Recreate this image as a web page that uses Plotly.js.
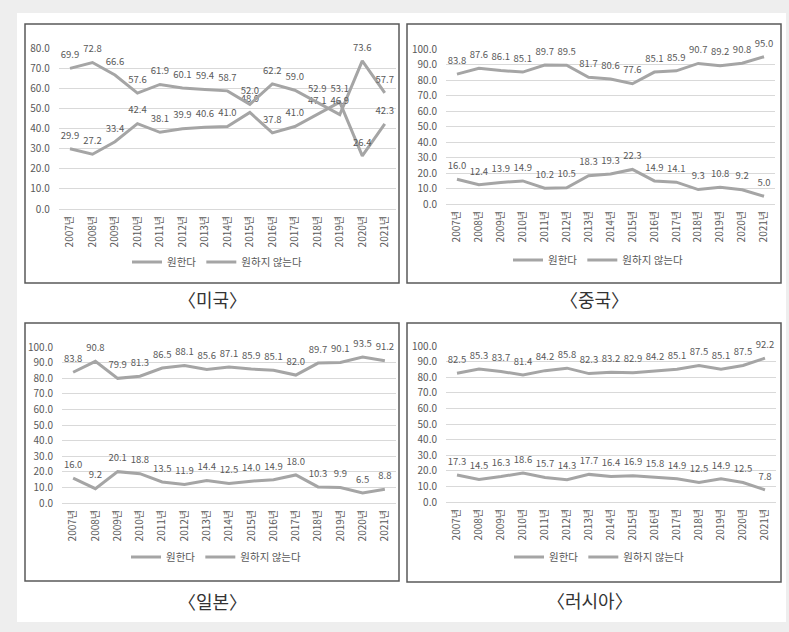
<!DOCTYPE html>
<html>
<head>
<meta charset="utf-8">
<script src="https://cdn.plot.ly/plotly-3.0.1.min.js"></script>
<style>
html,body{margin:0;padding:0;background:#eeeeee;}
#chart{width:789px;height:632px;}
</style>
</head>
<body>
<div id="chart"></div>
<script>
const years = ["2007년","2008년","2009년","2010년","2011년","2012년","2013년","2014년","2015년","2016년","2017년","2018년","2019년","2020년","2021년"];
const seriesNames = ["원한다","원하지 않는다"];
const captions = ["〈미국〉","〈중국〉","〈일본〉","〈러시아〉"];

const usWant    = [29.9,27.2,33.4,42.4,38.1,39.9,40.6,41.0,48.0,37.8,41.0,47.1,53.1,26.4,42.3];
const usNotWant = [69.9,72.8,66.6,57.6,61.9,60.1,59.4,58.7,52.0,62.2,59.0,52.9,46.9,73.6,57.7];
const cnWant    = [16.0,12.4,13.9,14.9,10.2,10.5,18.3,19.3,22.3,14.9,14.1,9.3,10.8,9.2,5.0];
const cnNotWant = [83.8,87.6,86.1,85.1,89.7,89.5,81.7,80.6,77.6,85.1,85.9,90.7,89.2,90.8,95.0];
const jpWant    = [16.0,9.2,20.1,18.8,13.5,11.9,14.4,12.5,14.0,14.9,18.0,10.3,9.9,6.5,8.8];
const jpNotWant = [83.8,90.8,79.9,81.3,86.5,88.1,85.6,87.1,85.9,85.1,82.0,89.7,90.1,93.5,91.2];
const ruWant    = [17.3,14.5,16.3,18.6,15.7,14.3,17.7,16.4,16.9,15.8,14.9,12.5,14.9,12.5,7.8];
const ruNotWant = [82.5,85.3,83.7,81.4,84.2,85.8,82.3,83.2,82.9,84.2,85.1,87.5,85.1,87.5,92.2];
const yMax = [80,100,100,100];

const W = 789, H = 632;
const FONT = "'Noto Sans CJK KR', 'Noto Sans', sans-serif";
const LINE = "#a5a5a5";
const TXT = "#595959";
const GRID = "#d9d9d9";

// panel geometry in px
const panels = [
  {box:[25,24,399,283], plot:[58.75,48,396,209], leg:[217,262], cap:[212,299]},
  {box:[407,24,781,283], plot:[446,49,775,204], leg:[598,260], cap:[594,299]},
  {box:[25,323,399,581], plot:[62,347,396,503], leg:[216,557], cap:[212,601]},
  {box:[407,323,781,582], plot:[446,346,776,502], leg:[599,557], cap:[590,600]}
];
const data = [[usWant,usNotWant],[cnWant,cnNotWant],[jpWant,jpNotWant],[ruWant,ruNotWant]];

const px = x => x / W;
const py = y => 1 - y / H;

const traces = [];
const layout = {
  width: W, height: H,
  margin: {l:0,r:0,t:0,b:0},
  paper_bgcolor: "#eeeeee",
  plot_bgcolor: "rgba(0,0,0,0)",
  font: {family: FONT, color: TXT, size: 10},
  showlegend: true,
  shapes: [
    {type:"rect", xref:"paper", yref:"paper", x0:px(17), x1:px(786), y0:py(13), y1:py(622),
     fillcolor:"#ffffff", line:{width:0}, layer:"below"}
  ],
  annotations: []
};

panels.forEach((p, i) => {
  const n = i === 0 ? "" : String(i + 1);
  const xa = "x" + n, ya = "y" + n;
  const legName = "legend" + n;
  data[i].forEach((vals, s) => {
    traces.push({
      type: "scatter", mode: "lines+markers+text",
      x: years, y: vals,
      text: vals.map(v => v.toFixed(1)),
      textposition: "top center",
      textfont: {family: FONT, size: 9.5, color: TXT},
      cliponaxis: false,
      name: seriesNames[s],
      line: {color: LINE, width: 3},
      marker: {size: 11, color: "rgba(0,0,0,0)", line: {width: 0}},
      xaxis: xa, yaxis: ya,
      legend: legName,
      hoverinfo: "skip"
    });
  });
  layout["xaxis" + n] = {
    domain: [px(p.plot[0]), px(p.plot[2])],
    anchor: ya, type: "category", range: [-0.5, 14.5],
    tickangle: -90, showgrid: false, zeroline: false, showline: false,
    ticks: "", ticklabelstandoff: 4,
    tickfont: {family: FONT, size: 10, color: TXT}, fixedrange: true
  };
  layout["yaxis" + n] = {
    domain: [py(p.plot[3]), py(p.plot[1])],
    anchor: xa, range: [0, yMax[i]], dtick: 10, tick0: 0,
    tickformat: ".1f", showgrid: true, gridcolor: GRID, gridwidth: 1,
    zeroline: true, zerolinecolor: GRID, zerolinewidth: 1, showline: false,
    ticks: "", ticklabelstandoff: 8,
    tickfont: {family: FONT, size: 10, color: TXT}, fixedrange: true
  };
  layout[legName] = {
    x: px(p.leg[0]), y: py(p.leg[1]), xanchor: "center", yanchor: "middle",
    orientation: "h", bgcolor: "rgba(0,0,0,0)",
    font: {family: FONT, size: 10.5, color: TXT},
    itemwidth: 30, tracegroupgap: 0
  };
  layout.shapes.push({type:"rect", xref:"paper", yref:"paper",
    x0:px(p.box[0]), x1:px(p.box[2]), y0:py(p.box[3]), y1:py(p.box[1]),
    line:{color:"#595959", width:1.5}, fillcolor:"rgba(0,0,0,0)", layer:"below"});
  layout.annotations.push({xref:"paper", yref:"paper", x:px(p.cap[0]), y:py(p.cap[1]),
    xanchor:"center", yanchor:"middle", showarrow:false, text:captions[i],
    font:{family: FONT, size: 18, color:"#333333"}});
});

Plotly.newPlot("chart", traces, layout, {staticPlot: true, displayModeBar: false});
</script>
</body>
</html>
